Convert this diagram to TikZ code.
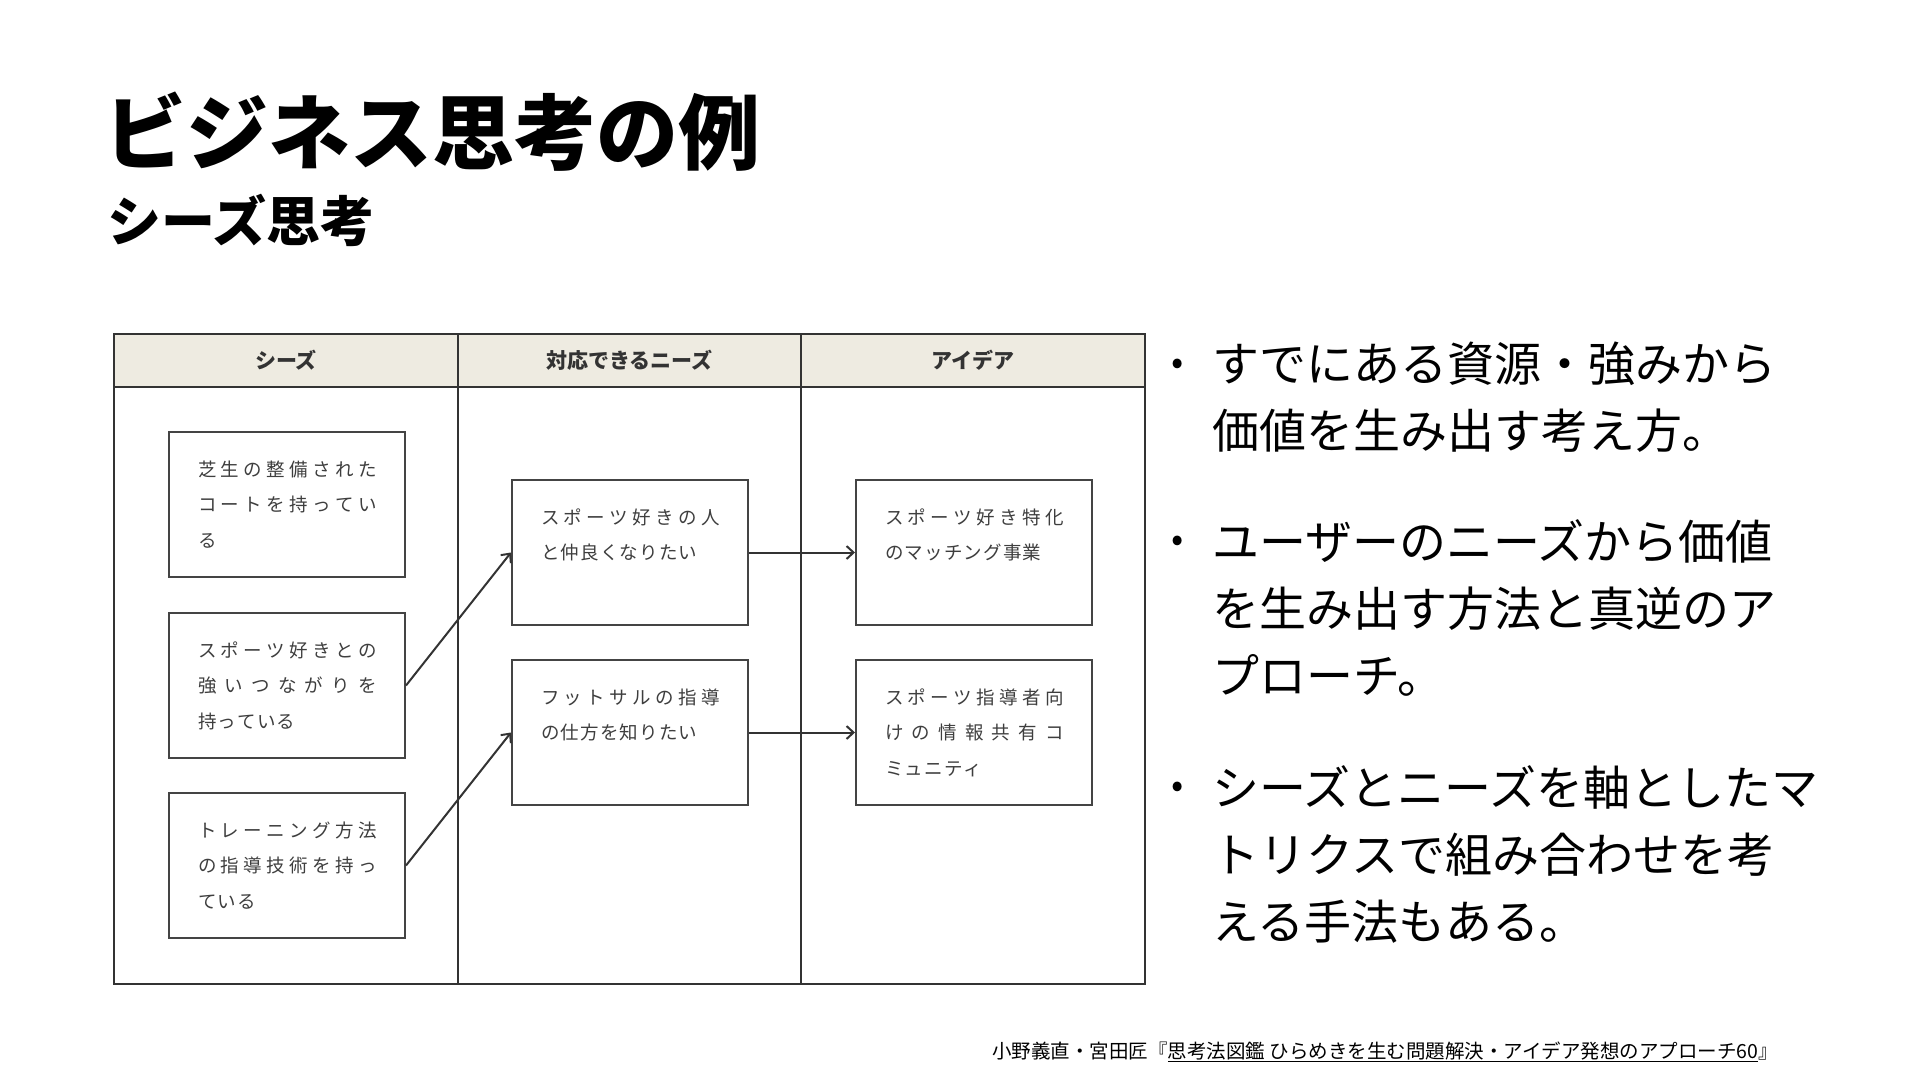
\documentclass[tikz,border=0pt]{standalone}
\usepackage{fontspec}
\setmainfont{Noto Sans CJK JP}
\usepackage{xcolor}
\usetikzlibrary{arrows.meta}

\definecolor{linegray}{HTML}{333333}
\definecolor{boxgray}{HTML}{444444}
\definecolor{textgray}{HTML}{3E3E3E}
\definecolor{headbeige}{HTML}{EEEBE1}

\makeatletter
\newcommand\boxjust[1]{\makebox[179pt][s]{\@tfor\cc:=#1\do{\cc\hfil}\unskip}}
\newcommand\boxnat[1]{\@tfor\cc:=#1\do{\cc\kern1.2pt}}
\makeatother
\newcommand\boxtext[1]{\parbox[c][145pt][t]{236pt}{\fontsize{18.5}{35.5}\selectfont\color{textgray}\leftskip=29pt\rule{0pt}{44pt}#1}}

\begin{document}
\begin{tikzpicture}[x=1pt,y=-1pt]
        \tikzstyle{every node}+=[inner sep=0pt]
        \tikzstyle{cardbox}=[draw=boxgray, line width=2pt, anchor=north west]
        \tikzstyle{headtext}=[font=\fontsize{21}{25}\selectfont\bfseries, text=linegray]
        \tikzstyle{pointtext}=[font=\fontsize{47}{67}\selectfont, align=left, anchor=north west]
        \tikzstyle{dotmark}=[font=\fontsize{36}{40}\selectfont]
        \tikzstyle{link}=[draw=linegray, line width=2pt, -{Straight Barb[length=7pt,width=13pt]}]
        \fill [white] (0,0) rectangle (1920,1080);
        \node [anchor=west, font=\fontsize{82}{90}\selectfont\bfseries] (title) at (104,132) {ビジネス思考の例};
        \node [anchor=west, font=\fontsize{54}{60}\selectfont\bfseries] (subtitle) at (107,220) {シーズ思考};
        \fill [headbeige] (114,334) rectangle (1145,387);
        \draw [linegray, line width=2pt] (114,334) rectangle (1145,984);
        \draw [linegray, line width=2pt] (114,387) -- (1145,387);
        \draw [linegray, line width=2pt] (458,334) -- (458,984);
        \draw [linegray, line width=2pt] (801,334) -- (801,984);
        \node [headtext] (h1) at (286,360) {シーズ};
        \node [headtext] (h2) at (629.5,360) {対応できるニーズ};
        \node [headtext] (h3) at (973,360) {アイデア};
        \node [cardbox] (s1) at (168,431) {\boxtext{\boxjust{芝生の整備された}\\\boxjust{コートを持ってい}\\\boxnat{る}}};
        \node [cardbox] (s2) at (168,612) {\boxtext{\boxjust{スポーツ好きとの}\\\boxjust{強いつながりを}\\\boxnat{持っている}}};
        \node [cardbox] (s3) at (168,792) {\boxtext{\boxjust{トレーニング方法}\\\boxjust{の指導技術を持っ}\\\boxnat{ている}}};
        \node [cardbox] (n1) at (511,479) {\boxtext{\boxjust{スポーツ好きの人}\\\boxnat{と仲良くなりたい}}};
        \node [cardbox] (n2) at (511,659) {\boxtext{\boxjust{フットサルの指導}\\\boxnat{の仕方を知りたい}}};
        \node [cardbox] (i1) at (855,479) {\boxtext{\boxjust{スポーツ好き特化}\\\boxnat{のマッチング事業}}};
        \node [cardbox] (i2) at (855,659) {\boxtext{\boxjust{スポーツ指導者向}\\\boxjust{けの情報共有コ}\\\boxnat{ミュニティ}}};
        \draw [link] (s2.east) -- (n1.west);
        \draw [link] (s3.east) -- (n2.west);
        \draw [link] (n1.east) -- (i1.west);
        \draw [link] (n2.east) -- (i2.west);
        \node [dotmark] (d1) at (1178,367) {•};
        \node [dotmark] (d2) at (1178,544) {•};
        \node [dotmark] (d3) at (1178,790) {•};
        \node [pointtext] (p1) at (1212,342) {すでにある資源・強みから\\価値を生み出す考え方。};
        \node [pointtext] (p2) at (1212,519) {ユーザーのニーズから価値\\を生み出す方法と真逆のア\\プローチ。};
        \node [pointtext] (p3) at (1212,765) {シーズとニーズを軸としたマ\\トリクスで組み合わせを考\\える手法もある。};
        \node [anchor=east, font=\fontsize{19.5}{22}\selectfont] (cite) at (1778,1052) {小野義直・宮田匠『\underline{思考法図鑑 ひらめきを生む問題解決・アイデア発想のアプローチ60}』};
\end{tikzpicture}
\end{document}
